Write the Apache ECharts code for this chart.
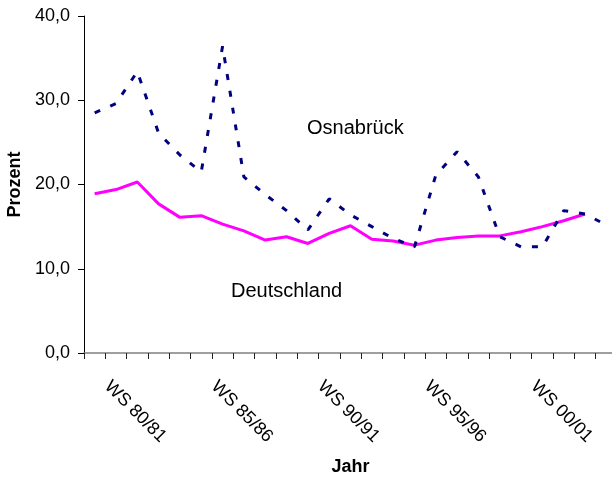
<!DOCTYPE html>
<html>
<head>
<meta charset="utf-8">
<script src="https://cdn.jsdelivr.net/npm/echarts@6/dist/echarts.min.js"></script>
<style>
  html, body { margin: 0; padding: 0; background: #fff; }
  #chart { width: 612px; height: 478px; }
</style>
</head>
<body>
<div id="chart"></div>
<script>
// Wintersemester (Achse geht rechts über den Bildrand hinaus)
var semester = ['WS 80/81', 'WS 81/82', 'WS 82/83', 'WS 83/84', 'WS 84/85',
  'WS 85/86', 'WS 86/87', 'WS 87/88', 'WS 88/89', 'WS 89/90',
  'WS 90/91', 'WS 91/92', 'WS 92/93', 'WS 93/94', 'WS 94/95',
  'WS 95/96', 'WS 96/97', 'WS 97/98', 'WS 98/99', 'WS 99/00',
  'WS 00/01', 'WS 01/02', 'WS 02/03', 'WS 03/04', 'WS 04/05'];

var osnabrueck = [28.5, 29.6, 33.4, 26.1, 23.5, 21.5, 36.4, 20.9, 18.8, 16.9,
  14.6, 18.3, 16.4, 15.0, 13.6, 12.6, 21.1, 23.9, 20.9, 13.8,
  12.6, 12.6, 16.9, 16.5, 15.2];

var deutschland = [18.9, 19.4, 20.3, 17.7, 16.1, 16.3, 15.3, 14.5, 13.4, 13.8,
  13.0, 14.2, 15.1, 13.5, 13.3, 12.8, 13.4, 13.7, 13.9, 13.9,
  14.4, 15.0, 15.7, 16.5, null];

var yTicks = [0, 10, 20, 30, 40];

var font = '"Liberation Sans", Arial, sans-serif';

var myChart = echarts.init(document.getElementById('chart'));
var option;

option = {
  backgroundColor: '#fff',
  animation: false,
  grid: {
    left: 84,
    top: 16,
    width: 533,
    height: 337,
    outerBoundsMode: 'none'
  },
  xAxis: {
    type: 'category',
    data: semester,
    boundaryGap: true,
    name: 'Jahr',
    nameLocation: 'middle',
    nameGap: 105,
    nameTextStyle: { fontFamily: font, fontSize: 18, fontWeight: 'bold', color: '#000' },
    axisLine: { lineStyle: { color: '#808080', width: 1.5 } },
    axisTick: { show: true, interval: 0, length: 6, lineStyle: { color: '#222' } },
    axisLabel: {
      interval: 4,
      rotate: -45,
      margin: 18,
      padding: [0, 0, 0, 18],
      fontFamily: font,
      fontSize: 18,
      color: '#000'
    },
    splitLine: { show: false }
  },
  yAxis: {
    type: 'value',
    min: yTicks[0],
    max: yTicks[yTicks.length - 1],
    interval: 10,
    name: 'Prozent',
    nameLocation: 'middle',
    nameGap: 58,
    nameRotate: 90,
    nameTextStyle: { fontFamily: font, fontSize: 18, fontWeight: 'bold', color: '#000' },
    axisLine: { show: true, lineStyle: { color: '#000', width: 1 } },
    axisTick: { show: true, length: 6, lineStyle: { color: '#000' } },
    axisLabel: {
      margin: 14,
      fontFamily: font,
      fontSize: 18,
      color: '#000',
      formatter: function (v) { return v.toFixed(1).replace('.', ','); }
    },
    splitLine: { show: false }
  },
  graphic: [
    {
      type: 'text', left: 307, top: 118,
      style: { text: 'Osnabrück', font: '20px ' + font, fill: '#000' }
    },
    {
      type: 'text', left: 231, top: 281,
      style: { text: 'Deutschland', font: '20px ' + font, fill: '#000' }
    }
  ],
  series: [
    {
      name: 'Osnabrück',
      type: 'line',
      data: osnabrueck,
      showSymbol: false,
      symbol: 'none',
      lineStyle: { color: '#000080', width: 3, type: [6, 11] },
      z: 3
    },
    {
      name: 'Deutschland',
      type: 'line',
      data: deutschland,
      showSymbol: false,
      symbol: 'none',
      lineStyle: { color: '#ff00ff', width: 3 },
      z: 2
    }
  ]
};

option && myChart.setOption(option);
</script>
</body>
</html>
